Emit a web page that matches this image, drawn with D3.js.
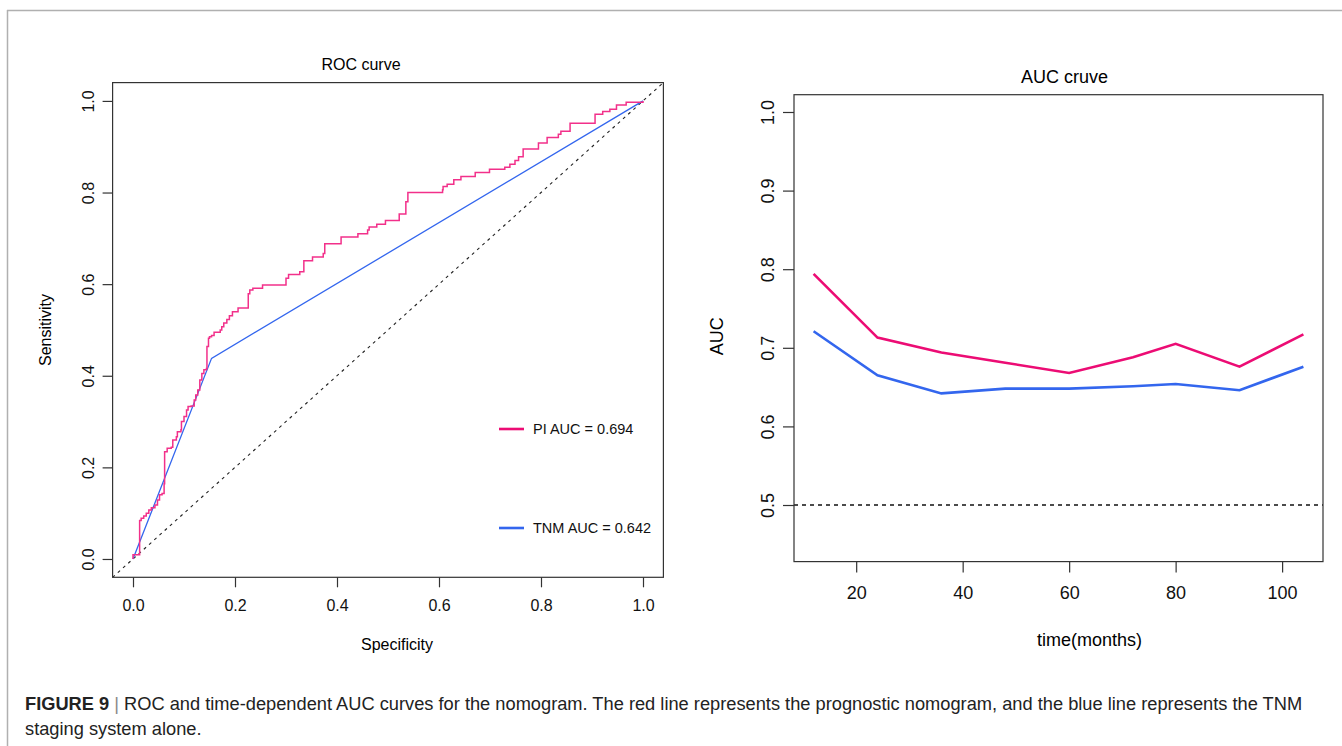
<!DOCTYPE html>
<html>
<head>
<meta charset="utf-8">
<script src="https://d3js.org/d3.v7.min.js"></script>
<style>
  body { margin: 0; background: #fff; }
  svg { font-family: "Liberation Sans", Arial, sans-serif; }
  .axis path, .axis line { stroke: #333; stroke-width: 1.2px; fill: none; }
  .axis text { fill: #111; }
</style>
</head>
<body>
<script>
// ROC curve (left) - step corners
const piFpr = [0, 0, 0.013, 0.016, 0.021, 0.026, 0.031, 0.036, 0.043, 0.048, 0.052, 0.057, 0.061, 0.062,
  0.067, 0.075, 0.078, 0.085, 0.087, 0.094, 0.095, 0.100, 0.105, 0.108, 0.114, 0.120, 0.123, 0.127, 0.131,
  0.135, 0.139, 0.144, 0.145, 0.148, 0.150, 0.154, 0.159, 0.171, 0.174, 0.178, 0.184, 0.189, 0.195, 0.206,
  0.226, 0.229, 0.235, 0.254, 0.300, 0.305, 0.327, 0.335, 0.352, 0.373, 0.376, 0.408, 0.441, 0.460, 0.463,
  0.478, 0.495, 0.522, 0.535, 0.539, 0.607, 0.608, 0.616, 0.629, 0.643, 0.671, 0.699, 0.729, 0.739, 0.749,
  0.756, 0.765, 0.795, 0.812, 0.834, 0.839, 0.857, 0.906, 0.921, 0.935, 0.948, 0.967, 1.0];
const piTpr = [0, 0.009, 0.084, 0.089, 0.094, 0.100, 0.107, 0.112, 0.118, 0.129, 0.140, 0.143, 0.164, 0.234,
  0.242, 0.244, 0.260, 0.267, 0.278, 0.282, 0.300, 0.311, 0.325, 0.333, 0.334, 0.347, 0.358, 0.369, 0.391,
  0.405, 0.413, 0.416, 0.464, 0.482, 0.485, 0.488, 0.495, 0.500, 0.507, 0.515, 0.523, 0.531, 0.540, 0.548,
  0.579, 0.587, 0.591, 0.598, 0.613, 0.621, 0.627, 0.651, 0.659, 0.667, 0.688, 0.703, 0.710, 0.718, 0.725,
  0.731, 0.739, 0.753, 0.780, 0.800, 0.806, 0.813, 0.818, 0.828, 0.835, 0.844, 0.851, 0.855, 0.862, 0.870,
  0.878, 0.895, 0.908, 0.920, 0.927, 0.934, 0.951, 0.971, 0.977, 0.982, 0.991, 0.997, 1.0];
const tnmFpr = [0, 0.154, 1];
const tnmTpr = [0, 0.438, 1];
const rocTicks = [0, 0.2, 0.4, 0.6, 0.8, 1.0];
const rocLegend = ["PI AUC = 0.694", "TNM AUC = 0.642"];

// time-dependent AUC (right)
const months = [12, 24, 36, 48, 60, 72, 80, 92, 104];
const aucPI = [0.794, 0.713, 0.694, 0.681, 0.668, 0.688, 0.705, 0.676, 0.717];
const aucTNM = [0.721, 0.665, 0.642, 0.648, 0.648, 0.651, 0.654, 0.646, 0.676];
const monthTicks = [20, 40, 60, 80, 100];
const aucTicks = [0.5, 0.6, 0.7, 0.8, 0.9, 1.0];

const pink = "#EC0C74";
const pinkThin = "#F2308A";
const blue = "#3366EE";

let W = 1342, H = 746;
let svg = d3.select('body').append('svg')
  .attr('width', W)
  .attr('height', H);

// figure frame
svg.append('line').attr('x1', 7).attr('x2', W).attr('y1', 10.5).attr('y2', 10.5)
  .style('stroke', '#b0b0b0').style('stroke-width', 1.5);
svg.append('line').attr('x1', 7.5).attr('x2', 7.5).attr('y1', 10).attr('y2', H)
  .style('stroke', '#b0b0b0').style('stroke-width', 1.5);

// ---------- left: ROC ----------
let L = {left: 112.6, right: 663.4, top: 82.6, bottom: 577.3};
let xs = d3.scaleLinear().domain([-0.04, 1.04]).range([L.left, L.right]);
let ys = d3.scaleLinear().domain([-0.04, 1.04]).range([L.bottom, L.top]);

let g1 = svg.append('g');

// diagonal reference
g1.append('line')
  .attr('x1', xs(-0.04)).attr('y1', ys(-0.04))
  .attr('x2', xs(1.04)).attr('y2', ys(1.04))
  .style('stroke', '#222').style('stroke-width', 1.1)
  .style('stroke-dasharray', '3,4');

let stepLine = d3.line()
  .x(d => xs(d[0])).y(d => ys(d[1]))
  .curve(d3.curveStepAfter);
let straight = d3.line().x(d => xs(d[0])).y(d => ys(d[1]));

g1.append('path')
  .datum(d3.zip(tnmFpr, tnmTpr))
  .attr('d', straight)
  .style('fill', 'none').style('stroke', blue).style('stroke-width', 1.3);

g1.append('path')
  .datum(d3.zip(piFpr, piTpr))
  .attr('d', stepLine)
  .style('fill', 'none').style('stroke', pinkThin).style('stroke-width', 1.5);

// box
g1.append('rect')
  .attr('x', L.left).attr('y', L.top)
  .attr('width', L.right - L.left).attr('height', L.bottom - L.top)
  .style('fill', 'none').style('stroke', '#333').style('stroke-width', 1.2);

let xAx1 = g1.append('g').attr('class', 'axis')
  .attr('transform', 'translate(0,' + L.bottom + ')')
  .call(d3.axisBottom(xs).tickValues(rocTicks).tickFormat(d3.format('.1f')).tickSize(10).tickSizeOuter(0));
xAx1.select('.domain').remove();
xAx1.selectAll('text').style('font-size', '16px').attr('y', 22).attr('dy', '0.71em');

let yAx1 = g1.append('g').attr('class', 'axis')
  .attr('transform', 'translate(' + L.left + ',0)')
  .call(d3.axisLeft(ys).tickValues(rocTicks).tickFormat(d3.format('.1f')).tickSize(10).tickSizeOuter(0));
yAx1.select('.domain').remove();
yAx1.selectAll('text').style('font-size', '16px')
  .attr('transform', 'rotate(-90)').attr('x', 0).attr('y', -24).attr('dy', '0.35em')
  .style('text-anchor', 'middle');

g1.append('text').text('ROC curve')
  .attr('x', 361).attr('y', 70)
  .style('text-anchor', 'middle').style('font-size', '16px');
g1.append('text').text('Specificity')
  .attr('x', 397).attr('y', 650)
  .style('text-anchor', 'middle').style('font-size', '16px');
g1.append('text').text('Sensitivity')
  .attr('transform', 'translate(51,' + ((L.top + L.bottom) / 2) + ') rotate(-90)')
  .style('text-anchor', 'middle').style('font-size', '16px');

// legend
let legY = [429, 528];
let legCol = [pink, blue];
rocLegend.forEach((t, i) => {
  g1.append('line').attr('x1', 499).attr('x2', 524).attr('y1', legY[i]).attr('y2', legY[i])
    .style('stroke', legCol[i]).style('stroke-width', 2.6);
  g1.append('text').text(t).attr('x', 533).attr('y', legY[i]).attr('dy', '0.35em')
    .style('font-size', '14.5px').style('fill', '#111');
});

// ---------- right: AUC over time ----------
let R = {left: 794, right: 1323, top: 94.7, bottom: 561.6};
let xt = d3.scaleLinear().domain([8.32, 107.68]).range([R.left, R.right]);
let ya = d3.scaleLinear().domain([0.428, 1.022]).range([R.bottom, R.top]);

let g2 = svg.append('g');

g2.append('line')
  .attr('x1', R.left).attr('x2', R.right)
  .attr('y1', ya(0.5)).attr('y2', ya(0.5))
  .style('stroke', '#111').style('stroke-width', 1.3).style('stroke-dasharray', '4,4');

let aucLine = d3.line().x((d, i) => xt(months[i])).y(d => ya(d));
g2.append('path').datum(aucTNM).attr('d', aucLine)
  .style('fill', 'none').style('stroke', blue).style('stroke-width', 2.6);
g2.append('path').datum(aucPI).attr('d', aucLine)
  .style('fill', 'none').style('stroke', pink).style('stroke-width', 2.6);

g2.append('rect')
  .attr('x', R.left).attr('y', R.top)
  .attr('width', R.right - R.left).attr('height', R.bottom - R.top)
  .style('fill', 'none').style('stroke', '#333').style('stroke-width', 1.2);

let xAx2 = g2.append('g').attr('class', 'axis')
  .attr('transform', 'translate(0,' + R.bottom + ')')
  .call(d3.axisBottom(xt).tickValues(monthTicks).tickSize(11).tickSizeOuter(0));
xAx2.select('.domain').remove();
xAx2.selectAll('text').style('font-size', '18px').attr('y', 25).attr('dy', '0.71em');

let yAx2 = g2.append('g').attr('class', 'axis')
  .attr('transform', 'translate(' + R.left + ',0)')
  .call(d3.axisLeft(ya).tickValues(aucTicks).tickFormat(d3.format('.1f')).tickSize(11).tickSizeOuter(0));
yAx2.select('.domain').remove();
yAx2.selectAll('text').style('font-size', '18px')
  .attr('transform', 'rotate(-90)').attr('x', 0).attr('y', -26).attr('dy', '0.35em')
  .style('text-anchor', 'middle');

g2.append('text').text('AUC cruve')
  .attr('x', (R.left + R.right) / 2 + 6).attr('y', 83)
  .style('text-anchor', 'middle').style('font-size', '18px');
g2.append('text').text('time(months)')
  .attr('x', (R.left + R.right) / 2 + 31).attr('y', 646)
  .style('text-anchor', 'middle').style('font-size', '18px');
g2.append('text').text('AUC')
  .attr('transform', 'translate(723,' + ((R.top + R.bottom) / 2 + 8) + ') rotate(-90)')
  .style('text-anchor', 'middle').style('font-size', '18px');

// ---------- caption ----------
let cap = svg.append('text').attr('x', 25).attr('y', 710).style('font-size', '18.25px').style('fill', '#222');
cap.append('tspan').text('FIGURE 9').style('font-weight', 'bold');
cap.append('tspan').text(' | ').style('fill', '#888');
cap.append('tspan').text('ROC and time-dependent AUC curves for the nomogram. The red line represents the prognostic nomogram, and the blue line represents the TNM');
svg.append('text').attr('x', 25).attr('y', 735).style('font-size', '18.25px').style('fill', '#222')
  .text('staging system alone.');
</script>
</body>
</html>
